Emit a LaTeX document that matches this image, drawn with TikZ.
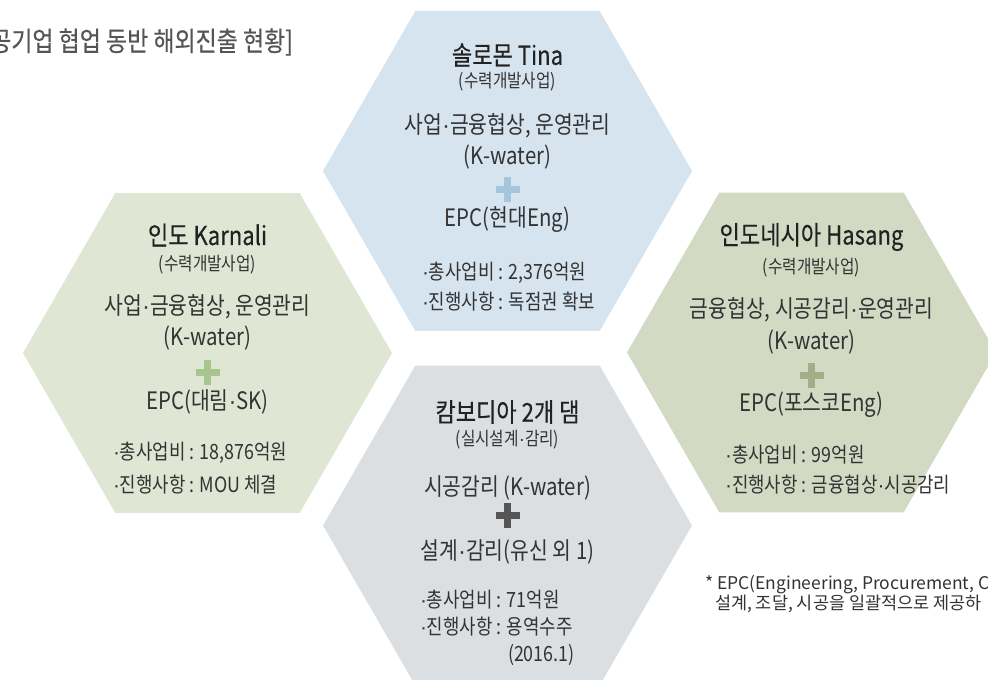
\documentclass[tikz,border=0pt]{standalone}
\usepackage{fontspec}
\setmainfont{Noto Sans CJK KR}[FakeStretch=0.85]
\newfontfamily\heavyfont{Noto Sans CJK KR}[FakeStretch=0.85,FakeBold=0.35]
\newfontfamily\plainfont{Noto Sans CJK KR}
\newfontfamily\dotfont{Liberation Sans}
\newcommand\kdot{{\dotfont ·}}
\usetikzlibrary{shapes.geometric}
\definecolor{hexblue}{HTML}{D6E4EF}
\definecolor{hexgreen}{HTML}{DFE6D3}
\definecolor{hexolive}{HTML}{D3DAC4}
\definecolor{hexgray}{HTML}{DCDFE2}
\definecolor{plusblue}{HTML}{A4C6DC}
\definecolor{plusgreen}{HTML}{A9C58F}
\definecolor{plusolive}{HTML}{A4AD88}
\definecolor{plusgray}{HTML}{555555}
\definecolor{titlegray}{HTML}{555555}
\definecolor{darktext}{HTML}{222222}
\definecolor{bodytext}{HTML}{333333}
\tikzset{
  hexshape/.style={regular polygon, regular polygon sides=6, minimum size=369pt, inner sep=0pt, outer sep=0pt, draw=none},
  txt/.style={inner sep=0pt, outer sep=0pt},
  hextitle/.style={txt, text=darktext, font=\heavyfont\fontsize{26}{30}\selectfont},
  hexsub/.style={txt, text=bodytext, font=\fontsize{18.5}{22}\selectfont},
  hexbody/.style={txt, text=bodytext, font=\fontsize{24}{28}\selectfont},
  hexbullet/.style={txt, text=bodytext, anchor=west, font=\fontsize{21}{25}\selectfont},
  footstyle/.style={txt, text=bodytext, anchor=west, font=\plainfont\fontsize{17.5}{21}\selectfont},
  plussign/.pic={\fill (-12,-3.5) rectangle (12,3.5); \fill (-3.5,-12.5) rectangle (3.5,12.5);}
}
\begin{document}
\begin{tikzpicture}[x=1pt,y=-1pt]
\useasboundingbox (0,0) rectangle (988,680);
\clip (0,0) rectangle (988,680);
\fill[white] (0,0) rectangle (988,680);

% title
\node[txt, anchor=east, text=titlegray, font=\heavyfont\fontsize{27}{31}\selectfont] (maintitle) at (293,42) {공기업 협업 동반 해외진출 현황]};

% top hexagon
\begin{scope}[shift={(507.5,171)}]
\node[hexshape, fill=hexblue] (hexT) at (0,0) {};
\node[hextitle] (hexTtitle) at (0,-116) {솔로몬 Tina};
\node[hexsub] (hexTsub) at (0,-89) {(수력개발사업)};
\node[hexbody] (hexTb1) at (0,-45) {사업\kdot{}금융협상, 운영관리};
\node[hexbody] (hexTb2) at (0,-14) {(K-water)};
\pic[plusblue] at (0,18) {plussign};
\node[hexbody] (hexTepc) at (0,49) {EPC(현대Eng)};
\node[hexbullet] (hexTc1) at (-85.5,102) {\kdot{}총사업비 : 2,376억원};
\node[hexbullet] (hexTc2) at (-85.5,131) {\kdot{}진행사항 : 독점권 확보};
\end{scope}

% left hexagon
\begin{scope}[shift={(207.5,353)}]
\node[hexshape, fill=hexgreen] (hexL) at (0,0) {};
\node[hextitle] (hexLtitle) at (0,-118) {인도 Karnali};
\node[hexsub] (hexLsub) at (0,-88) {(수력개발사업)};
\node[hexbody] (hexLb1) at (0,-46) {사업\kdot{}금융협상, 운영관리};
\node[hexbody] (hexLb2) at (0,-15) {(K-water)};
\pic[plusgreen] at (0,19) {plussign};
\node[hexbody] (hexLepc) at (0,49) {EPC(대림\kdot{}SK)};
\node[hexbullet] (hexLc1) at (-94.5,100) {\kdot{}총사업비 : 18,876억원};
\node[hexbullet] (hexLc2) at (-94.5,132) {\kdot{}진행사항 : MOU 체결};
\end{scope}

% right hexagon
\begin{scope}[shift={(811.5,352.5)}]
\node[hexshape, fill=hexolive] (hexR) at (0,0) {};
\node[hextitle] (hexRtitle) at (0,-115.5) {인도네시아 Hasang};
\node[hexsub] (hexRsub) at (0,-84.5) {(수력개발사업)};
\node[hexbody] (hexRb1) at (0,-42.5) {금융협상, 시공감리\kdot{}운영관리};
\node[hexbody] (hexRb2) at (0,-10.5) {(K-water)};
\pic[plusolive] at (0,22.5) {plussign};
\node[hexbody] (hexRepc) at (0,52.5) {EPC(포스코Eng)};
\node[hexbullet] (hexRc1) at (-86.5,102.5) {\kdot{}총사업비 : 99억원};
\node[hexbullet] (hexRc2) at (-86.5,132.5) {\kdot{}진행사항 : 금융협상\kdot{}시공감리};
\end{scope}

% bottom hexagon
\begin{scope}[shift={(507.5,525.5)}]
\node[hexshape, fill=hexgray] (hexB) at (0,0) {};
\node[hextitle] (hexBtitle) at (0,-113.5) {캄보디아 2개 댐};
\node[hexsub] (hexBsub) at (0,-85.5) {(실시설계\kdot{}감리)};
\node[hexbody] (hexBb1) at (0,-37.5) {시공감리 (K-water)};
\pic[plusgray] at (0,-10) {plussign};
\node[hexbody] (hexBb2) at (0,26.5) {설계\kdot{}감리(유신 외 1)};
\node[hexbullet] (hexBc1) at (-87.5,74.5) {\kdot{}총사업비 : 71억원};
\node[hexbullet] (hexBc2) at (-87.5,101.5) {\kdot{}진행사항 : 용역수주};
\node[hexbullet] (hexBc3) at (0.5,129.5) {(2016.1)};
\end{scope}

% footnote
\node[footstyle] (foot1) at (705,585) {* EPC(Engineering, Procurement, C};
\node[footstyle] (foot2) at (715,604) {설계, 조달, 시공을 일괄적으로 제공하};
\end{tikzpicture}
\end{document}
